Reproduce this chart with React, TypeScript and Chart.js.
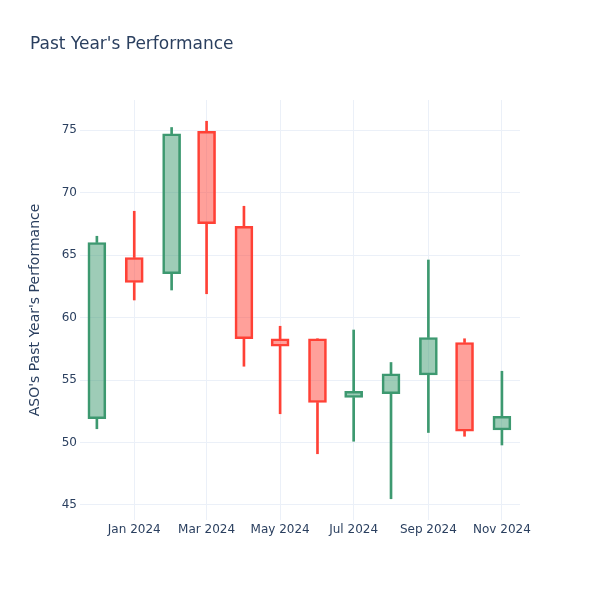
import React, { useEffect, useRef } from 'react';
import { Chart, registerables } from 'chart.js';

Chart.register(...registerables);

const dates = [
  '2023-12-01', '2024-01-01', '2024-02-01', '2024-03-01', '2024-04-01', '2024-05-01',
  '2024-06-01', '2024-07-01', '2024-08-01', '2024-09-01', '2024-10-01', '2024-11-01',
];
const opens = [51.9, 64.8, 63.5, 74.9, 67.3, 58.3, 58.3, 53.6, 53.9, 55.4, 58.0, 51.0];
const highs = [66.5, 68.5, 75.2, 75.7, 68.9, 59.3, 58.3, 59.0, 56.4, 64.6, 58.3, 55.7];
const lows = [51.1, 61.4, 62.2, 61.9, 56.1, 52.3, 49.1, 50.1, 45.5, 50.8, 50.5, 49.8];
const closes = [66.0, 62.8, 74.7, 67.5, 58.3, 57.7, 53.2, 54.1, 55.5, 58.4, 50.9, 52.1];

const xTickDates = ['2024-01-01', '2024-03-01', '2024-05-01', '2024-07-01', '2024-09-01', '2024-11-01'];
const xTickLabels = ['Jan 2024', 'Mar 2024', 'May 2024', 'Jul 2024', 'Sep 2024', 'Nov 2024'];
const yTicks = [45, 50, 55, 60, 65, 70, 75];

const xRange = ['2023-11-17', '2024-11-16'];
const yRange = [43.8, 77.4];

const INC_LINE = '#3D9970';
const INC_FILL = 'rgba(61,153,112,0.5)';
const DEC_LINE = '#FF4136';
const DEC_FILL = 'rgba(255,65,54,0.5)';
const TEXT = '#2a3f5f';
const GRID = '#EBF0F8';
const FONT = "'DejaVu Sans', Verdana, sans-serif";

export default function App() {
  const ref = useRef<HTMLCanvasElement | null>(null);

  useEffect(() => {
    if (!ref.current) return;
    const xs = dates.map((d) => Date.parse(d));
    const up = opens.map((o, i) => closes[i] >= o);
    const lineColors = up.map((u) => (u ? INC_LINE : DEC_LINE));
    const fillColors = up.map((u) => (u ? INC_FILL : DEC_FILL));

    const chart = new Chart(ref.current, {
      type: 'bar',
      data: {
        datasets: [
          {
            label: 'body',
            data: xs.map((x, i) => ({ x, y: [opens[i], closes[i]] })) as any,
            backgroundColor: fillColors,
            borderColor: lineColors,
            borderWidth: 2,
            borderSkipped: false,
            barThickness: 18,
            grouped: false,
          } as any,
          {
            label: 'upper wick',
            data: xs.map((x, i) => ({ x, y: [Math.max(opens[i], closes[i]), highs[i]] })) as any,
            backgroundColor: lineColors,
            borderWidth: 0,
            barThickness: 2,
            grouped: false,
          } as any,
          {
            label: 'lower wick',
            data: xs.map((x, i) => ({ x, y: [lows[i], Math.min(opens[i], closes[i])] })) as any,
            backgroundColor: lineColors,
            borderWidth: 0,
            barThickness: 2,
            grouped: false,
          } as any,
        ],
      },
      options: {
        responsive: false,
        animation: false,
        layout: { padding: { left: 30, right: 80, top: 0, bottom: 0 } },
        plugins: {
          legend: { display: false },
          tooltip: { enabled: false },
          title: {
            display: true,
            text: "Past Year's Performance",
            align: 'start',
            color: TEXT,
            font: { family: FONT, size: 17, weight: 'normal' },
            padding: { top: 34, bottom: 45.6 },
          },
        },
        scales: {
          x: {
            type: 'linear',
            offset: false,
            min: Date.parse(xRange[0]),
            max: Date.parse(xRange[1]),
            grid: { color: GRID, drawTicks: false, offset: false },
            border: { display: false },
            afterBuildTicks: (scale: any) => {
              scale.ticks = xTickDates.map((d) => ({ value: Date.parse(d) }));
            },
            afterFit: (scale: any) => {
              scale.height = 80;
            },
            ticks: {
              color: TEXT,
              font: { family: FONT, size: 12 },
              padding: 3,
              maxRotation: 0,
              autoSkip: false,
              callback: (value: any) => {
                const idx = xTickDates.findIndex((d) => Date.parse(d) === value);
                return idx >= 0 ? xTickLabels[idx] : '';
              },
            },
          },
          y: {
            type: 'linear',
            min: yRange[0],
            max: yRange[1],
            grid: { color: GRID, drawTicks: false },
            border: { display: false },
            afterBuildTicks: (scale: any) => {
              scale.ticks = yTicks.map((v) => ({ value: v }));
            },
            afterFit: (scale: any) => {
              scale.width = 50;
            },
            ticks: {
              color: TEXT,
              font: { family: FONT, size: 12 },
              padding: 3,
            },
            title: {
              display: true,
              text: "ASO's Past Year's Performance",
              color: TEXT,
              font: { family: FONT, size: 14 },
              padding: { top: -3, bottom: 0 },
            },
          },
        },
      } as any,
    });

    return () => chart.destroy();
  }, []);

  return (
    <div style={{ position: 'fixed', left: 0, top: 0, width: 600, height: 600, background: '#fff' }}>
      <canvas ref={ref} width={600} height={600} style={{ width: 600, height: 600 }} />
    </div>
  );
}
